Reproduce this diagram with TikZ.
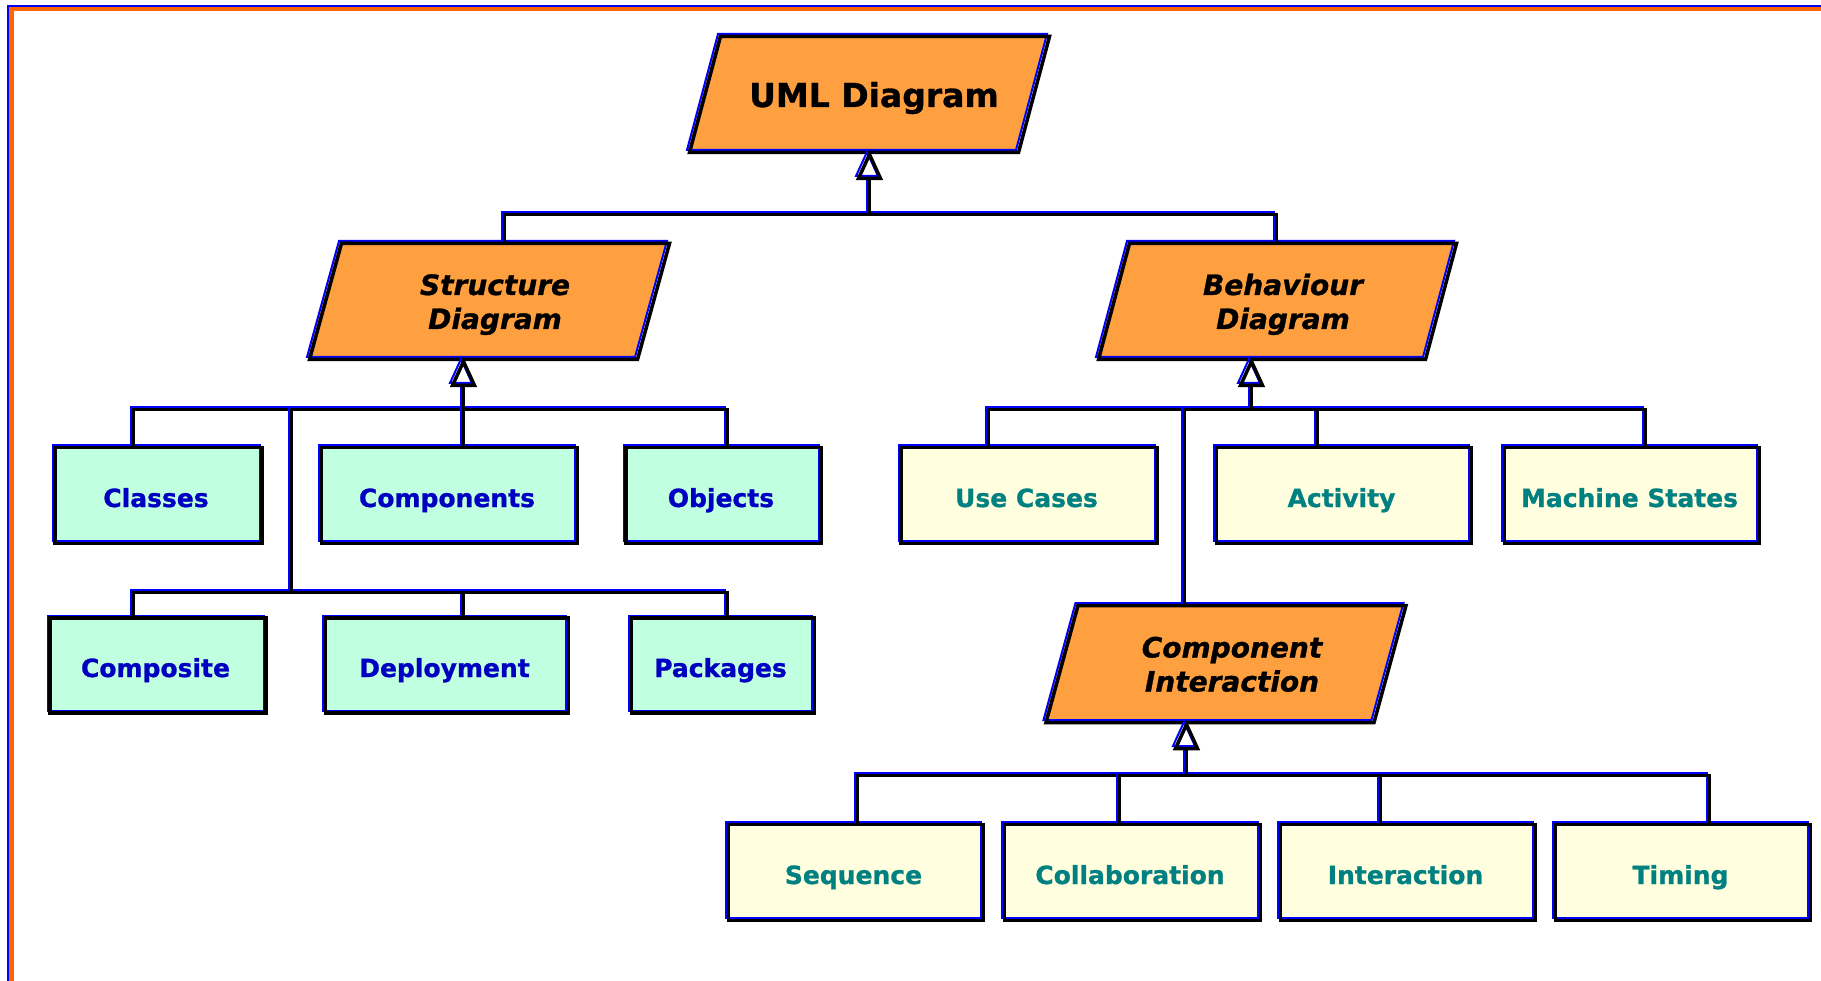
\documentclass[tikz,border=0pt]{standalone}
\usepackage{fontspec}
\setmainfont{DejaVu Sans}[BoldFeatures={FakeBold=1},BoldItalicFeatures={FakeBold=1}]
\usetikzlibrary{backgrounds}
\definecolor{frameorange}{HTML}{FF6600}
\definecolor{parentfill}{HTML}{FFA040}
\definecolor{structfill}{HTML}{C0FFE0}
\definecolor{behavfill}{HTML}{FFFFE0}
\definecolor{structtext}{HTML}{0000C0}
\definecolor{behavtext}{HTML}{008080}
\begin{document}
\begin{tikzpicture}[x=1pt,y=-1pt,
  % blue stroke with a black stroke offset down-right
  inked/.style={draw=blue, line width=2pt, line join=miter,
    postaction={draw=black, line width=3.5pt, fill=none,
      transform canvas={shift={(2.5pt,-2.5pt)}}}},
  % parent classes: text body, the slanted outline is drawn behind it
  parent/.style={rectangle, minimum height=116pt, inner sep=0pt, outer sep=0pt,
    align=center, text height=66pt, text depth=6pt,
    font=\fontsize{28}{34}\selectfont\bfseries\itshape},
  rootnode/.style={parent, text height=36pt, text depth=6pt,
    font=\fontsize{33}{40}\selectfont\bfseries},
  slanted/.style={inked, fill=parentfill},
  leafbox/.style={inked, rectangle, minimum height=96pt, inner sep=0pt,
    text height=32pt, text depth=4pt,
    font=\fontsize{25}{30}\selectfont\bfseries},
  structleaf/.style={leafbox, fill=structfill, text=structtext},
  behavleaf/.style={leafbox, fill=behavfill, text=behavtext},
  wire/.style={inked},
  headtri/.style={inked, fill=white}
]
\useasboundingbox (0,0) rectangle (1821,981);

% page frame
\draw[blue, line width=2pt] (8,6) rectangle (1900,1100);
\draw[frameorange, line width=4.5pt] (11.5,9) rectangle (1900,1100);

% root (text sits a little right of the outline's centre)
\node[rootnode, minimum width=329pt] (uml) at (874,92) {UML Diagram};

% second level
\node[parent, minimum width=328pt] (structure) at (495,299) {Structure\\Diagram};
\node[parent, minimum width=327pt] (behaviour) at (1283,299) {Behaviour\\Diagram};
\node[parent, minimum width=328pt, minimum height=117pt] (ci) at (1232,661.5) {Component\\Interaction};

% slanted outlines behind the parent texts
\begin{scope}[on background layer]
  \foreach \p/\s/\d in {uml/15.5/7, structure/16/8, behaviour/15.5/8, ci/16/8.5}{
    \draw[slanted] ([xshift=-\s pt-\d pt]\p.south west) -- ([xshift=\s pt-\d pt]\p.north west)
      -- ([xshift=\s pt-\d pt]\p.north east) -- ([xshift=-\s pt-\d pt]\p.south east) -- cycle;
  }
\end{scope}

% structure leaves
\node[structleaf, minimum width=207pt] (classes) at (156,493) {Classes};
\node[structleaf, minimum width=256pt] (components) at (447,493) {Components};
\node[structleaf, minimum width=195pt] (objects) at (721,493) {Objects};
\node[structleaf, minimum width=216pt, minimum height=95pt] (composite) at (155.5,663) {Composite};
\node[structleaf, minimum width=243pt, minimum height=95pt] (deployment) at (444.5,663) {Deployment};
\node[structleaf, minimum width=183pt, minimum height=95pt] (packages) at (720.5,663) {Packages};

% behaviour leaves
\node[behavleaf, minimum width=256pt] (usecases) at (1026.5,493) {Use Cases};
\node[behavleaf, minimum width=255pt] (activity) at (1341.5,493) {Activity};
\node[behavleaf, minimum width=255pt] (machine) at (1629.5,493) {Machine States};

% interaction leaves
\node[behavleaf, minimum width=255pt] (sequence) at (853.5,870) {Sequence};
\node[behavleaf, minimum width=256pt] (collab) at (1130,870) {Collaboration};
\node[behavleaf, minimum width=255pt] (interaction) at (1405.5,870) {Interaction};
\node[behavleaf, minimum width=255pt] (timing) at (1680.5,870) {Timing};

% junction points of the connector buses
\coordinate (uJ) at (867,212);
\coordinate (uS) at (502,212);
\coordinate (uB) at (1274,212);

\coordinate (sJ) at (461,407);
\coordinate (sL) at (131,407);
\coordinate (sR) at (725,407);
\coordinate (sLow) at (289,590);

\coordinate (bJ) at (1249,407);
\coordinate (bUse) at (986,407);
\coordinate (bAct) at (1315,407);
\coordinate (bMac) at (1643,407);
\coordinate (bCI) at (1182,407);

\coordinate (cJ) at (1184,773);
\coordinate (cSeq) at (855,773);
\coordinate (cCol) at (1117,773);
\coordinate (cInt) at (1378,773);
\coordinate (cTim) at (1707,773);

% tips of the generalisation triangles, on the parents' lower edges
\coordinate (uT) at ([yshift=-2pt]uml.south -| uJ);
\coordinate (sT) at ([yshift=-2pt]structure.south -| sJ);
\coordinate (bT) at ([yshift=-2pt]behaviour.south -| bJ);
\coordinate (cT) at ([yshift=-2pt]ci.south -| cJ);

% root bus
\draw[wire] (structure.north -| uS) -- (uS) -- (uJ);
\draw[wire] (behaviour.north -| uB) -- (uB) -- (uJ);
\draw[wire] (uJ) -- ([yshift=-24pt]uT);

% structure bus
\draw[wire] (classes.north -| sL) -- (sL) -- (sJ);
\draw[wire] (objects.north -| sR) -- (sR) -- (sJ);
\draw[wire] (composite.north -| sL) |- (sLow);
\draw[wire] (packages.north -| sR) |- (sLow);
\draw[wire] (deployment.north -| sJ) |- (sLow);
\draw[wire] (sLow) -- (sLow |- sJ);
\draw[wire] (components.north -| sJ) -- ([yshift=-24pt]sT);

% behaviour bus
\draw[wire] (usecases.north -| bUse) -- (bUse) -- (bJ);
\draw[wire] (activity.north -| bAct) -- (bAct) -- (bJ);
\draw[wire] (machine.north -| bMac) -- (bMac) -- (bJ);
\draw[wire] (ci.north -| bCI) -- (bCI);
\draw[wire] (bJ) -- ([yshift=-24pt]bT);

% interaction bus
\draw[wire] (sequence.north -| cSeq) -- (cSeq) -- (cJ);
\draw[wire] (collab.north -| cCol) -- (cCol) -- (cJ);
\draw[wire] (interaction.north -| cInt) -- (cInt) -- (cJ);
\draw[wire] (timing.north -| cTim) -- (cTim) -- (cJ);
\draw[wire] (cJ) -- ([yshift=-24pt]cT);

% hollow generalisation triangles
\foreach \t in {uT, sT, bT, cT}{
  \draw[headtri] (\t) -- ++(-11,24) -- ++(22,0) -- cycle;
}
\end{tikzpicture}
\end{document}
